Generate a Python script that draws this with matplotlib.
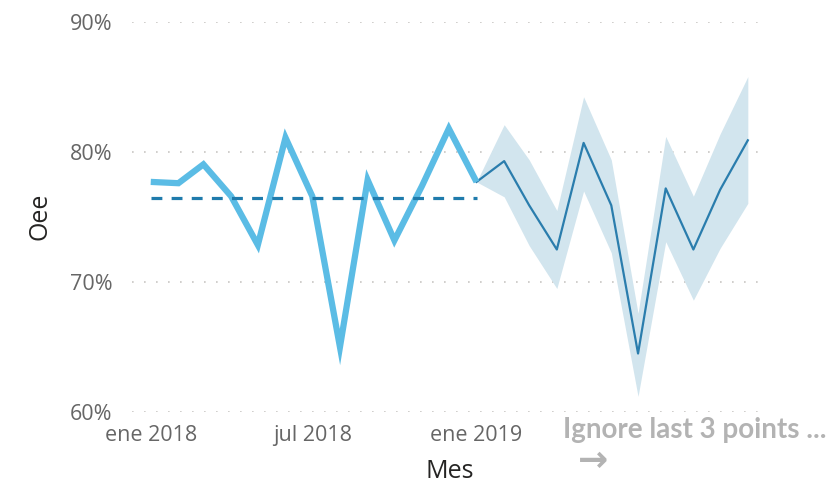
import matplotlib
matplotlib.use("Agg")
import matplotlib.pyplot as plt
import numpy as np
import pandas as pd

# ---- data ----
actual_months = pd.date_range("2018-01-01", "2019-01-01", freq="MS")
actual_oee = [77.7, 77.6, 79.05, 76.6, 72.85, 81.1, 76.6, 65.0, 77.85, 73.2, 77.4, 81.8, 77.7]

forecast_months = pd.date_range("2019-01-01", "2019-11-01", freq="MS")
forecast_oee = [77.7, 79.3, 75.9, 72.5, 80.7, 75.9, 64.5, 77.2, 72.5, 77.1, 80.9]
forecast_upper = [77.7, 82.1, 79.4, 75.5, 84.25, 79.4, 67.6, 81.2, 76.6, 81.4, 85.8]
forecast_lower = [77.7, 76.55, 72.8, 69.5, 77.0, 72.25, 61.2, 73.1, 68.6, 72.6, 76.05]

y_ticks = [60, 70, 80, 90]
x_tick_dates = pd.to_datetime(["2018-01-01", "2018-07-01", "2019-01-01"])
x_tick_labels = ["ene 2018", "jul 2018", "ene 2019"]

# ---- style ----
FONT = ["Open Sans", "DejaVu Sans"]
plt.rcParams["font.family"] = FONT

fig = plt.figure(figsize=(8.38, 4.83), dpi=100)
ax = fig.add_axes([132 / 838, 1 - 412 / 483, (763 - 132) / 838, (412 - 22) / 483])

# gridlines
for v in y_ticks:
    ax.axhline(v, color="#C8C6C4", lw=1.2, linestyle=(0, (1, 6.2)), zorder=0)

# forecast band and line
ax.fill_between(forecast_months, forecast_lower, forecast_upper, color="#D2E5EE", lw=0, zorder=1)
ax.plot(forecast_months, forecast_oee, color="#2A7DAD", lw=1.6, zorder=3)

# actual line
ax.plot(actual_months, actual_oee, color="#5BBCE5", lw=4.5, solid_joinstyle="miter",
        solid_capstyle="butt", zorder=4)

# mean dashed line
mean_val = float(np.mean(actual_oee))
ax.plot([actual_months[0], actual_months[-1]], [mean_val, mean_val], color="#1F7BAC",
        lw=2.3, linestyle=(0, (3.4, 2.9)), zorder=5)

ax.set_ylim(60, 90)
ax.set_xlim(pd.Timestamp("2017-12-11"), pd.Timestamp("2019-11-18"))
ax.set_yticks(y_ticks)
ax.set_yticklabels([f"{v}%" for v in y_ticks])
ax.set_xticks(x_tick_dates)
ax.set_xticklabels(x_tick_labels)
ax.tick_params(axis="both", length=0, labelsize=15.5, labelcolor="#666666")
ax.tick_params(axis="y", pad=14)
ax.tick_params(axis="x", pad=9.5)
for s in ax.spines.values():
    s.set_visible(False)

fig.text(40 / 838, 1 - 216 / 483, "Oee", rotation=90, ha="center", va="center",
         fontsize=18, color="#252423")
fig.text(450 / 838, 1 - 471 / 483, "Mes", ha="center", va="center",
         fontsize=18, color="#252423")

fig.text(563 / 838, 1 - 438 / 483, "Ignore last 3 points ...", ha="left", va="baseline",
         fontsize=20, color="#B3B3B3", fontweight="bold",
         family=["Lato", "DejaVu Sans"])
fig.text(593 / 838, 1 - 461 / 483, "→", ha="center", va="center",
         fontsize=26, color="#B3B3B3", fontweight="bold",
         family=["DejaVu Sans"])

fig.savefig("out.png", dpi=100)
